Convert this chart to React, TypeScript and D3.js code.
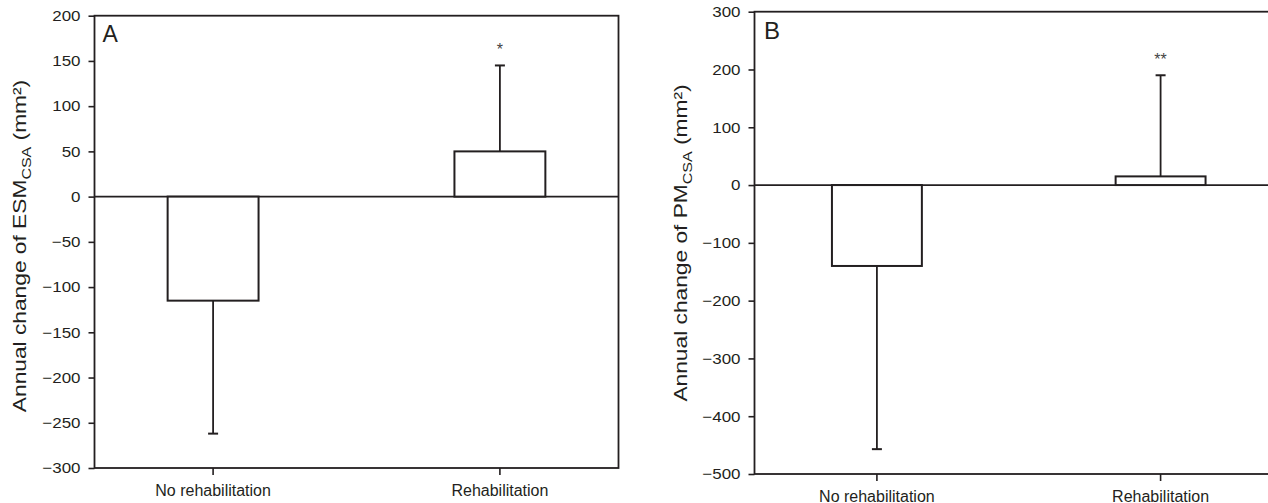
import React, { useEffect, useRef } from 'react';
import * as d3 from 'd3';

// group names on the x axis
const categories = ['No rehabilitation', 'Rehabilitation'];

// panel A: annual change of ESM CSA (mm²)
const esmMeans = [-115, 50];
const esmSD = [147, 95];
const esmSig = ['', '*'];
const esmTicks = [-300, -250, -200, -150, -100, -50, 0, 50, 100, 150, 200];

// panel B: annual change of PM CSA (mm²)
const pmMeans = [-140, 15];
const pmSD = [317, 175];
const pmSig = ['', '**'];
const pmTicks = [-500, -400, -300, -200, -100, 0, 100, 200, 300];

const INK = '#231f20';
const FONT = '"Liberation Sans", Arial, Helvetica, sans-serif';

const panels = [
  {
    tag: 'A', measure: 'ESM', means: esmMeans, sd: esmSD, sig: esmSig, ticks: esmTicks,
    domain: [-300, 200], left: 94.5, top: 15.7, bottom: 468, width: 524, outer: 0.255,
    tagX: 102.5, tagY: 41.7, tagSize: 23, labelX: 25.5, labelY: 246,
  },
  {
    tag: 'B', measure: 'PM', means: pmMeans, sd: pmSD, sig: pmSig, ticks: pmTicks,
    domain: [-500, 300], left: 754.5, top: 11.7, bottom: 474, width: 528.5, outer: 0.273,
    tagX: 764, tagY: 39.3, tagSize: 24, labelX: 686.7, labelY: 243,
  },
];

const App = () => {
  const svgRef = useRef(null);

  useEffect(() => {
    const svg = d3.select(svgRef.current);
    svg.selectAll('*').remove();

    panels.forEach(p => {
      const g = svg.append('g');

      const x = d3.scaleBand()
        .domain(categories)
        .range([p.left, p.left + p.width])
        .paddingInner(0.683)
        .paddingOuter(p.outer);

      const y = d3.scaleLinear()
        .domain(p.domain)
        .range([p.bottom, p.top]);

      // y axis
      const ya = g.append('g')
        .attr('transform', `translate(${p.left},0)`)
        .call(d3.axisLeft(y).tickValues(p.ticks).tickSize(6).tickPadding(8).tickSizeOuter(0));
      ya.select('.domain').remove();
      ya.selectAll('line').attr('stroke', INK).attr('stroke-width', 1.6);
      ya.selectAll('text')
        .attr('x', 0)
        .attr('transform', 'translate(-14,0) scale(1.13,1)')
        .attr('fill', INK)
        .style('font-size', '15px')
        .style('font-family', FONT);

      // x axis
      const xa = g.append('g')
        .attr('transform', `translate(0,${p.bottom})`)
        .call(d3.axisBottom(x).tickSize(7).tickPadding(9.5).tickSizeOuter(0));
      xa.select('.domain').remove();
      xa.selectAll('line').attr('stroke', INK).attr('stroke-width', 1.6);
      xa.selectAll('text')
        .attr('fill', INK)
        .style('font-size', '16px')
        .style('font-family', FONT);

      // frame
      g.append('rect')
        .attr('x', p.left)
        .attr('y', p.top)
        .attr('width', p.width)
        .attr('height', p.bottom - p.top)
        .attr('fill', 'none')
        .attr('stroke', INK)
        .attr('stroke-width', 1.8);

      // zero line
      g.append('line')
        .attr('x1', p.left)
        .attr('x2', p.left + p.width)
        .attr('y1', y(0))
        .attr('y2', y(0))
        .attr('stroke', INK)
        .attr('stroke-width', 1.8);

      const cx = (i) => x(categories[i]) + x.bandwidth() / 2;
      const end = (d, i) => d + Math.sign(d) * p.sd[i];

      // error bars
      g.selectAll('line.err')
        .data(p.means)
        .join('line')
        .attr('class', 'err')
        .attr('x1', (d, i) => cx(i))
        .attr('x2', (d, i) => cx(i))
        .attr('y1', d => y(d))
        .attr('y2', (d, i) => y(end(d, i)))
        .attr('stroke', INK)
        .attr('stroke-width', 1.8);

      g.selectAll('line.cap')
        .data(p.means)
        .join('line')
        .attr('class', 'cap')
        .attr('x1', (d, i) => cx(i) - 5)
        .attr('x2', (d, i) => cx(i) + 5)
        .attr('y1', (d, i) => y(end(d, i)))
        .attr('y2', (d, i) => y(end(d, i)))
        .attr('stroke', INK)
        .attr('stroke-width', 2);

      // bars
      g.selectAll('rect.bar')
        .data(p.means)
        .join('rect')
        .attr('class', 'bar')
        .attr('x', (d, i) => x(categories[i]))
        .attr('width', x.bandwidth())
        .attr('y', d => y(Math.max(0, d)))
        .attr('height', d => Math.abs(y(d) - y(0)))
        .attr('fill', 'white')
        .attr('stroke', INK)
        .attr('stroke-width', 2);

      // significance marks
      g.selectAll('text.sig')
        .data(p.means)
        .join('text')
        .attr('class', 'sig')
        .attr('x', (d, i) => cx(i))
        .attr('y', (d, i) => y(end(d, i)) - 10.5)
        .attr('text-anchor', 'middle')
        .attr('fill', '#444')
        .style('font-size', '16px')
        .style('font-family', FONT)
        .text((d, i) => p.sig[i]);

      // panel tag
      g.append('text')
        .attr('x', p.tagX)
        .attr('y', p.tagY)
        .attr('fill', INK)
        .style('font-size', `${p.tagSize}px`)
        .style('font-family', FONT)
        .text(p.tag);

      // y axis label
      const lab = g.append('text')
        .attr('transform', `translate(${p.labelX},${p.labelY}) rotate(-90) scale(1.23,1)`)
        .attr('text-anchor', 'middle')
        .attr('fill', INK)
        .style('font-size', '18.5px')
        .style('font-family', FONT);
      lab.append('tspan').text(`Annual change of ${p.measure}`);
      lab.append('tspan').attr('dy', 5).style('font-size', '13px').text('CSA');
      lab.append('tspan').attr('dy', -5).text(' (mm²)');
    });
  });

  return (
    <svg
      ref={svgRef}
      width="1268"
      height="503"
      style={{ position: 'absolute', left: 0, top: 0, background: 'white' }}
    ></svg>
  );
};

export default App;
